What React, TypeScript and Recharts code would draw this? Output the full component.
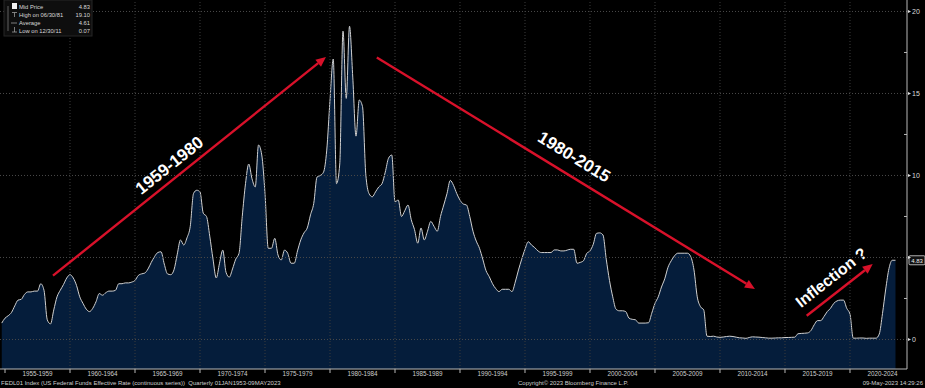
import React from 'react';
import { AreaChart, Area, XAxis, YAxis, ReferenceLine, ReferenceDot } from 'recharts';

// FEDL01 quarter-end values, first point is Q3 1954
const rates1950s = [
  1.0, 1.3,
  1.45, 1.65, 2.05, 2.4,
  2.45, 2.75, 2.9, 2.9,
  2.95, 2.95, 3.4, 3.0,
  1.2, 0.95, 1.8, 2.6,
  3.0, 3.35, 3.75, 3.95,
];
const rates1960s = [
  3.75, 3.3, 2.6, 2.2,
  1.85, 1.7, 1.9, 2.3,
  2.8, 2.7, 2.85, 2.95,
  2.95, 3.0, 3.4, 3.4,
  3.45, 3.45, 3.5, 3.6,
  3.9, 4.0, 4.05, 4.3,
  4.7, 5.05, 5.3, 5.35,
  4.6, 4.0, 3.95, 4.25,
  5.2, 6.07, 5.76, 6.2,
  6.9, 8.9, 9.1, 9.0,
];
const rates1970s = [
  7.7, 7.5, 6.3, 4.9,
  3.75, 4.65, 5.45, 4.1,
  3.8, 4.3, 4.9, 5.25,
  7.5, 9.5, 10.7, 9.8,
  9.3, 11.86, 11.25, 8.9,
  5.56, 5.56, 6.17, 5.15,
  4.85, 5.45, 5.25, 4.65,
  4.65, 5.4, 6.07, 6.5,
  6.8, 7.6, 8.3, 9.9,
  10.0, 10.2, 11.55, 14.6,
];
const rates1980s = [
  17.1, 9.5, 10.7, 18.8,
  14.7, 19.1, 16.0, 12.4,
  14.6, 14.2, 10.1, 8.9,
  8.7, 9.0, 9.3, 9.5,
  10.2, 11.05, 11.25, 8.4,
  8.5, 7.5, 7.85, 8.2,
  7.3, 6.7, 5.87, 6.8,
  6.07, 6.6, 7.2, 6.9,
  6.6, 7.5, 8.2, 8.9,
  9.7, 9.4, 8.9, 8.5,
];
const rates1990s = [
  8.26, 8.2, 7.5, 6.6,
  6.0, 5.56, 4.9, 4.2,
  3.83, 3.4, 3.1, 2.92,
  3.06, 3.06, 3.06, 2.92,
  3.5, 4.24, 4.9, 5.5,
  5.96, 5.76, 5.6, 5.4,
  5.3, 5.3, 5.3, 5.3,
  5.46, 5.46, 5.4, 5.4,
  5.45, 5.5, 5.5, 4.65,
  4.7, 4.8, 5.25, 5.4,
];
const rates2000s = [
  5.8, 6.47, 6.5, 6.37,
  4.9, 3.6, 2.6, 1.85,
  1.75, 1.75, 1.7, 1.3,
  1.23, 1.2, 1.0, 1.0,
  1.0, 1.02, 1.6, 2.2,
  2.6, 3.2, 3.7, 4.4,
  4.8, 5.1, 5.26, 5.26,
  5.26, 5.26, 5.05, 4.24,
  2.6, 2.0, 1.8, 0.2,
  0.18, 0.2, 0.15, 0.13,
];
const rates2010s = [
  0.15, 0.18, 0.2, 0.18,
  0.14, 0.1, 0.09, 0.07,
  0.12, 0.16, 0.15, 0.14,
  0.12, 0.1, 0.08, 0.08,
  0.09, 0.1, 0.1, 0.12,
  0.12, 0.13, 0.14, 0.35,
  0.37, 0.38, 0.4, 0.55,
  0.9, 1.15, 1.15, 1.4,
  1.7, 1.9, 2.2, 2.35,
  2.4, 2.4, 1.9, 1.55,
];
const rates2020s = [
  0.08, 0.08, 0.09, 0.09,
  0.07, 0.08, 0.08, 0.08,
  0.33, 1.58, 3.08, 4.33,
  4.83, 4.83,
];

const firstQuarterEnd = 1954.75;
const periodStarts = [1955, 1960, 1965, 1970, 1975, 1980, 1985, 1990, 1995, 2000, 2005, 2010, 2015, 2020];
const gridYears = periodStarts.slice(1);
const yTicks = [0, 2.5, 5, 7.5, 10, 12.5, 15, 17.5, 20];
const gridValues = [0, 5, 10, 15, 20];

const legendRows = [
  { label: 'Mid Price', value: '4.83' },
  { label: 'High on 06/30/81', value: '19.10' },
  { label: 'Average', value: '4.61' },
  { label: 'Low on 12/30/11', value: '0.07' },
];

const annotations = [
  { text: '1959-1980', from: { x: 1958.69, y: 3.89 }, to: { x: 1979.69, y: 17.23 }, at: 0.457, offset: 13, size: 17 },
  { text: '1980-2015', from: { x: 1983.6, y: 17.2 }, to: { x: 2012.69, y: 3.08 }, at: 0.497, offset: 18, size: 17 },
  { text: 'Inflection ?', from: { x: 2016.67, y: 1.45 }, to: { x: 2021.75, y: 4.6 }, at: 0.51, offset: 15, size: 16 },
];

const allRates = [...rates1950s, ...rates1960s, ...rates1970s, ...rates1980s, ...rates1990s, ...rates2000s, ...rates2010s, ...rates2020s];
const data = allRates.map((rate, i) => ({ t: firstQuarterEnd + i * 0.25, rate }));
const lastRate = allRates[allRates.length - 1];

const W = 925;
const H = 388;
const AXIS_W = 18;
const AXIS_H = 19;
const xDomain: [number, number] = [1954.615, 2024.385];
const pxPerYear = (W - AXIS_W) / (xDomain[1] - xDomain[0]);

const FONT = '"Liberation Sans", Arial, sans-serif';
const RED = '#d8112a';
const AXIS_GREY = '#b8b8b8';

const XTick = (props: any) => {
  const { x, y, payload } = props;
  const year = payload.value as number;
  return (
    <g>
      <line x1={x} x2={x} y1={y} y2={y + 4} stroke={AXIS_GREY} strokeWidth={1} />
      <text x={x + 2.5 * pxPerYear} y={y + 7} textAnchor="middle" fontSize={6.3} fontFamily={FONT} fill="#cfcfcf">
        {`${year}-${year + 4}`}
      </text>
    </g>
  );
};

const YTick = (props: any) => {
  const { x, y, payload } = props;
  const v = payload.value as number;
  if (v % 5 !== 0) {
    return <line x1={x} x2={x - 3} y1={y} y2={y} stroke={AXIS_GREY} strokeWidth={1} />;
  }
  // the last-value tag sits over this label, as on the terminal
  const hidden = Math.abs(v - lastRate) < 1.2;
  return (
    <g>
      <polygon points={`${x + 1},${y - 1.5} ${x + 4},${y} ${x + 1},${y + 1.5}`} fill="#ddd" />
      {!hidden && (
        <text x={x + 5} y={y} dominantBaseline="central" fontSize={7} fontFamily={FONT} fill="#dcdcdc">
          {v}
        </text>
      )}
    </g>
  );
};

const arrowShape = (a: typeof annotations[number]) => (p: any) => {
  const { x1, y1, x2, y2 } = p;
  const dx = x2 - x1;
  const dy = y2 - y1;
  const len = Math.hypot(dx, dy) || 1;
  const ux = dx / len;
  const uy = dy / len;
  const head = 10;
  const half = 4.5;
  const bx = x2 - ux * head;
  const by = y2 - uy * head;
  const pts = `${x2},${y2} ${bx - uy * half},${by + ux * half} ${bx + uy * half},${by - ux * half}`;
  let nx = uy;
  let ny = -ux;
  if (ny > 0) {
    nx = -nx;
    ny = -ny;
  }
  const tx = x1 + dx * a.at + nx * a.offset;
  const ty = y1 + dy * a.at + ny * a.offset;
  const angle = (Math.atan2(dy, dx) * 180) / Math.PI;
  return (
    <g>
      <line x1={x1} y1={y1} x2={bx} y2={by} stroke={RED} strokeWidth={2.4} />
      <polygon points={pts} fill={RED} />
      <text
        x={tx}
        y={ty}
        transform={`rotate(${angle} ${tx} ${ty})`}
        textAnchor="middle"
        dominantBaseline="central"
        fill="#ffffff"
        fontWeight="bold"
        fontSize={a.size}
        fontFamily={FONT}
      >
        {a.text}
      </text>
    </g>
  );
};

const ValueTag = (props: any) => {
  const { cx, cy } = props;
  return (
    <g>
      <rect x={cx + 2} y={cy - 4.5} width={16} height={9} rx={1} fill="#111" stroke="#dcdcdc" strokeWidth={0.8} />
      <text x={cx + 10} y={cy + 0.3} textAnchor="middle" dominantBaseline="central" fontSize={6} fontFamily={FONT} fill="#eee">
        {lastRate.toFixed(2)}
      </text>
    </g>
  );
};

const Legend = () => (
  <svg width={94} height={38} style={{ position: 'absolute', left: 0, top: 0 }}>
    <rect x={4} y={0} width={88} height={36} fill="#0e0e0e" stroke="#262626" />
    <line x1={8} x2={8} y1={6} y2={31} stroke="#777" strokeWidth={0.8} />
    <rect x={12} y={3} width={5} height={6} fill="#f2f2f2" />
    <line x1={12} x2={17} y1={12.5} y2={12.5} stroke="#999" strokeWidth={0.8} />
    <line x1={14.5} x2={14.5} y1={12.5} y2={17} stroke="#999" strokeWidth={0.8} />
    <line x1={11} x2={17} y1={23} y2={23} stroke="#999" strokeWidth={0.8} />
    <line x1={14.5} x2={14.5} y1={27} y2={32} stroke="#999" strokeWidth={0.8} />
    <line x1={12} x2={17} y1={32} y2={32} stroke="#999" strokeWidth={0.8} />
    {legendRows.map((r, i) => (
      <g key={r.label}>
        <text x={19} y={6.5 + i * 8.3} dominantBaseline="central" fontSize={5.8} fontFamily={FONT} fill="#d8d8d8">
          {r.label}
        </text>
        <text x={90} y={6.5 + i * 8.3} textAnchor="end" dominantBaseline="central" fontSize={5.8} fontFamily={FONT} fill="#d8d8d8">
          {r.value}
        </text>
      </g>
    ))}
  </svg>
);

const footStyle: React.CSSProperties = {
  position: 'absolute',
  top: 380,
  fontSize: 6,
  lineHeight: '7px',
  color: '#cfcfcf',
  fontFamily: FONT,
  whiteSpace: 'nowrap',
};

export default function App() {
  return (
    <div style={{ position: 'fixed', left: 0, top: 0, width: W, height: H, background: '#000', overflow: 'hidden' }}>
      <AreaChart width={W} height={H} data={data} margin={{ top: 0, right: 0, bottom: 0, left: 0 }}>
        <XAxis
          dataKey="t"
          type="number"
          domain={xDomain}
          allowDataOverflow
          ticks={periodStarts}
          interval={0}
          height={AXIS_H}
          tickSize={0}
          tickMargin={0}
          tickLine={false}
          axisLine={{ stroke: AXIS_GREY }}
          tick={<XTick />}
        />
        <YAxis
          orientation="right"
          type="number"
          domain={[-1.8, 20.7]}
          allowDataOverflow
          ticks={yTicks}
          interval={0}
          width={AXIS_W}
          tickSize={0}
          tickMargin={0}
          tickLine={false}
          axisLine={{ stroke: AXIS_GREY }}
          tick={<YTick />}
        />
        <Area
          type="monotone"
          dataKey="rate"
          stroke="#d0d0d0"
          strokeWidth={1}
          fill="#051d3b"
          fillOpacity={1}
          baseValue="dataMin"
          dot={false}
          activeDot={false}
          isAnimationActive={false}
        />
        {gridValues.map((v) => (
          <ReferenceLine key={`h${v}`} y={v} stroke="#4a4a4a" strokeDasharray="1 2" />
        ))}
        {gridYears.map((yr) => (
          <ReferenceLine key={`v${yr}`} x={yr} stroke="#3c3c3c" strokeDasharray="1 2" />
        ))}
        {annotations.map((a) => (
          <ReferenceLine key={a.text} segment={[a.from, a.to]} ifOverflow="visible" shape={arrowShape(a)} />
        ))}
        <ReferenceDot x={xDomain[1]} y={lastRate} r={0} ifOverflow="visible" shape={<ValueTag />} />
      </AreaChart>
      <Legend />
      <div style={{ ...footStyle, left: 1 }}>
        FEDL01 Index (US Federal Funds Effective Rate (continuous series)) &nbsp;Quarterly 01JAN1953-09MAY2023
      </div>
      <div style={{ ...footStyle, left: 518 }}>Copyright© 2023 Bloomberg Finance L.P.</div>
      <div style={{ ...footStyle, right: 2 }}>09-May-2023 14:29:26</div>
    </div>
  );
}
